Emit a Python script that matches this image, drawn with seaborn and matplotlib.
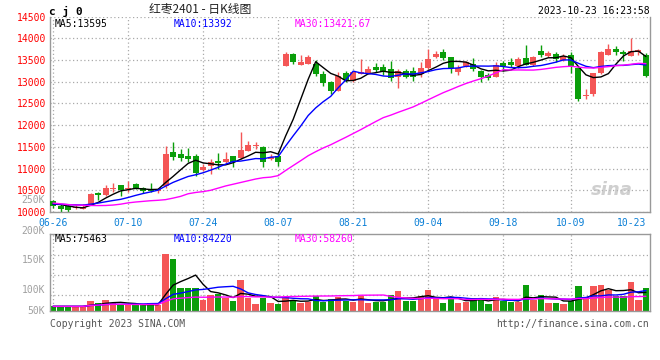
import matplotlib
matplotlib.use("Agg")
import matplotlib.pyplot as plt
import numpy as np
import pandas as pd
import seaborn as sns

# daily OHLC of 红枣2401 (06-26 .. 10-23)
opens = [10250, 10145, 10131, 10090, 10069, 10168, 10430, 10400, 10530, 10622,
         10530, 10645, 10545, 10530, 10477, 10600, 11375, 11336, 11298, 11283,
         10975, 11067, 11175, 11145, 11283, 11244, 11413, 11513, 11498, 11221,
         11298, 13370, 13640, 13394, 13410, 13410, 13180, 12988, 12795, 13195,
         13011, 13180, 13180, 13333, 13341, 13295, 13103, 13250, 13256, 13180,
         13318, 13579, 13694, 13564, 13233, 13371, 13410, 13256, 13157, 13118,
         13426, 13464, 13371, 13548, 13387, 13702, 13587, 13640, 13510, 13625,
         13311, 12680, 12719, 13196, 13625, 13756, 13694, 13602, 13679, 13625]
highs = [10270, 10177, 10177, 10170, 10177, 10430, 10454, 10622, 10668, 10630,
         10707, 10660, 10576, 10668, 10560, 11520, 11606, 11452, 11482, 11329,
         11106, 11221, 11360, 11375, 11300, 11850, 11636, 11606, 11510, 11330,
         11375, 13679, 13663, 13617, 13617, 13502, 13242, 13025, 13218, 13256,
         13230, 13525, 13357, 13426, 13410, 13487, 13300, 13300, 13349, 13464,
         13756, 13702, 13750, 13580, 13387, 13480, 13548, 13270, 13200, 13449,
         13487, 13540, 13580, 13848, 13600, 13856, 13700, 13680, 13640, 13679,
         13330, 12834, 13203, 13700, 13871, 13832, 13740, 14002, 13760, 13660]
lows = [10100, 10010, 10000, 10060, 10060, 10160, 10283, 10375, 10454, 10375,
        10454, 10540, 10438, 10470, 10440, 10560, 11187, 11164, 11145, 10837,
        10952, 10875, 10990, 11130, 11044, 11230, 11400, 11452, 11044, 11190,
        11053, 13360, 13410, 13380, 13400, 13141, 12910, 12719, 12780, 13003,
        13000, 13170, 13170, 13218, 13157, 13025, 12850, 13080, 13025, 13120,
        13300, 13541, 13500, 13196, 13157, 13330, 13260, 13000, 13050, 13100,
        13256, 13340, 13320, 13380, 13370, 13560, 13560, 13450, 13490, 13196,
        12565, 12604, 12680, 13190, 13610, 13617, 13487, 13590, 13620, 13110]
closes = [10130, 10069, 10053, 10110, 10120, 10415, 10400, 10553, 10553, 10507,
          10560, 10553, 10484, 10484, 10530, 11340, 11260, 11244, 11221, 10899,
          11030, 11160, 11122, 11221, 11145, 11428, 11544, 11544, 11160, 11267,
          11160, 13640, 13449, 13464, 13579, 13180, 12965, 12781, 13141, 13048,
          13218, 13218, 13295, 13272, 13218, 13080, 13242, 13100, 13103, 13318,
          13525, 13640, 13548, 13318, 13318, 13449, 13295, 13118, 13080, 13387,
          13371, 13387, 13525, 13394, 13571, 13625, 13656, 13525, 13602, 13371,
          12604, 12703, 13203, 13679, 13756, 13694, 13640, 13702, 13740, 13141]
# volume, thousands of lots
volumes = [19, 19, 19, 19, 19, 41, 33, 45, 33, 26,
           26, 23, 23, 33, 25, 234, 215, 96, 96, 96,
           44, 67, 70, 53, 42, 128, 52, 29, 52, 34,
           29, 59, 45, 33, 38, 62, 38, 49, 56, 42,
           38, 62, 33, 38, 38, 66, 82, 42, 42, 62,
           86, 49, 33, 59, 33, 38, 52, 55, 29, 59,
           42, 38, 38, 107, 45, 66, 33, 33, 29, 42,
           103, 59, 103, 107, 86, 62, 62, 119, 45, 94]

# the moving averages before their window is full (earlier days are off-chart)
ma5_head = [10184, 10170, 10140, 10110]
ma10_head = [10185, 10180, 10170, 10165, 10160, 10180, 10205, 10235, 10265]
ma30_head = [10205, 10190, 10170, 10160, 10155, 10150, 10148, 10150, 10160, 10180,
             10210, 10230, 10245, 10260, 10270, 10285, 10320, 10360, 10420, 10450,
             10470, 10500, 10550, 10600, 10640, 10680, 10720, 10760, 10790]

holidays = ["2023-09-29", "2023-10-02", "2023-10-03", "2023-10-04", "2023-10-05", "2023-10-06"]
tick_labels = ["06-26", "07-10", "07-24", "08-07", "08-21", "09-04", "09-18", "10-09", "10-23"]
price_ticks = [10000, 10500, 11000, 11500, 12000, 12500, 13000, 13500, 14000, 14500]
vol_labels = ["50K", "100K", "150K", "200K", "250K"]

days = pd.bdate_range("2023-06-26", "2023-10-23")
days = days[~days.isin(pd.to_datetime(holidays))]
day_str = list(days.strftime("%m-%d"))

df = pd.DataFrame({"open": opens, "high": highs, "low": lows, "close": closes, "vol": volumes})
df["i"] = np.arange(len(df))
for n, head in ((5, ma5_head), (10, ma10_head), (30, ma30_head)):
    ma = df["close"].rolling(n).mean()
    ma.iloc[:len(head)] = head
    df[f"ma{n}"] = ma
    df[f"vma{n}"] = df["vol"].rolling(n, min_periods=1).mean()

RED, GREEN = "#f45656", "#0a9e0a"
GRID = "#aaaaaa"
MONO = "DejaVu Sans Mono"

sns.set_theme(style="white")
plt.rcParams["font.family"] = ["DejaVu Sans Mono", "Noto Sans CJK SC"]

fig = plt.figure(figsize=(6.6, 3.6), dpi=100)


def fx(x, y):
    return x / 660, 1 - y / 360


ax = fig.add_axes([50 / 660, 1 - 212 / 360, 600 / 660, (212 - 16.7) / 360])
axv = fig.add_axes([50 / 660, 1 - 311 / 360, 600 / 660, 77 / 360])

up = df["close"] >= df["open"]
colors = np.where(up, RED, GREEN)

# candles
ax.vlines(df["i"], df["low"], df["high"], colors=colors, linewidth=1, zorder=2)
body_lo = df[["open", "close"]].min(axis=1)
body_h = (df["close"] - df["open"]).abs().clip(lower=20)
ax.bar(df["i"], body_h, bottom=body_lo, width=0.8, color=colors, linewidth=0, zorder=3)

sns.lineplot(x=df["i"], y=df["ma5"], ax=ax, color="black", linewidth=1, zorder=4)
sns.lineplot(x=df["i"], y=df["ma10"], ax=ax, color="#0000ff", linewidth=1, zorder=4)
sns.lineplot(x=df["i"], y=df["ma30"], ax=ax, color="#ff00ff", linewidth=1, zorder=4)

# volume
axv.bar(df["i"], df["vol"], width=0.85, color=colors, linewidth=0, zorder=2)
sns.lineplot(x=df["i"], y=df["vma5"], ax=axv, color="black", linewidth=1, zorder=4)
sns.lineplot(x=df["i"], y=df["vma10"], ax=axv, color="#0000ff", linewidth=1, zorder=4)
sns.lineplot(x=df["i"], y=df["vma30"], ax=axv, color="#ff00ff", linewidth=1, zorder=4)

tick_pos = [day_str.index(t) for t in tick_labels]
for a in (ax, axv):
    a.set_xlim(-0.4, 79.54)
    a.set_xticks(tick_pos)
    a.set_xlabel("")
    a.set_ylabel("")
    a.grid(True, color=GRID, linestyle=(0, (1, 2)), linewidth=0.9)
    a.tick_params(length=0)
    for s in a.spines.values():
        s.set_color("#999999")
        s.set_linewidth(1)
    a.xaxis.get_gridlines()[-1].set_visible(False)

ax.spines["top"].set_visible(False)
ax.set_ylim(10000, 14500)
ax.set_yticks(price_ticks)
ax.set_yticklabels([str(p) for p in price_ticks], color="#ff0000", fontsize=7, family=MONO)
ax.tick_params(axis="y", pad=3)
ax.set_xticklabels(tick_labels, color="#0a7fd6", fontsize=7, family=MONO)
ax.tick_params(axis="x", pad=4)
ax.get_xticklabels()[-1].set_horizontalalignment("right")

axv.set_ylim(0, 316)
axv.set_yticks([65.6, 147.6, 229.6])
axv.set_yticklabels([])
axv.set_xticklabels([])
for lab, yv in zip(vol_labels, [0, 86, 209, 328, 455]):
    axv.text(-0.008, yv, lab, transform=axv.get_yaxis_transform(), ha="right", va="center",
             fontsize=7, color="#a0a0a0", family=MONO, clip_on=False)

# header texts
fig.text(*fx(49, 11), "c j 0", ha="left", va="center", fontsize=8, fontweight="bold", color="black", family=MONO)
fig.text(*fx(200, 9), "红枣2401 - 日K线图", ha="center", va="center", fontsize=8.5,
         color="#222222", family=["Noto Sans CJK SC", "DejaVu Sans"])
fig.text(*fx(650, 11), "2023-10-23 16:23:58", ha="right", va="center", fontsize=7, color="black", family=MONO)

for txt, x, c in [("MA5:13595", 55, "black"), ("MA10:13392", 174, "#0000ff"), ("MA30:13421.67", 295, "#ff00ff")]:
    fig.text(*fx(x, 24), txt, ha="left", va="center", fontsize=7, color=c, family=MONO)
for txt, x, c in [("MA5:75463", 55, "black"), ("MA10:84220", 174, "#0000ff"), ("MA30:58260", 295, "#ff00ff")]:
    fig.text(*fx(x, 239), txt, ha="left", va="center", fontsize=7, color=c, family=MONO)

fig.text(*fx(50, 324), "Copyright 2023 SINA.COM", ha="left", va="center", fontsize=7, color="#555555", family=MONO)
fig.text(*fx(649, 324), "http://finance.sina.com.cn", ha="right", va="center", fontsize=7, color="#555555", family=MONO)
fig.text(*fx(612, 190), "sina", ha="center", va="center", fontsize=13, fontstyle="italic", fontweight="bold",
         color="#bbbbbb", alpha=0.7, family="DejaVu Sans")

fig.savefig("out.png", dpi=100)
